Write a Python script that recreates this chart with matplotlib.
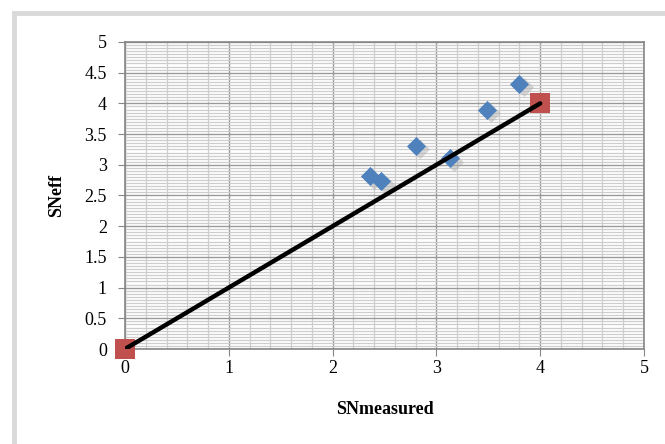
import matplotlib
matplotlib.use("Agg")
import matplotlib.pyplot as plt
from matplotlib.patches import Rectangle
import numpy as np

# Data
sn_measured = [2.36, 2.47, 2.80, 3.13, 3.49, 3.80]
sn_eff = [2.81, 2.73, 3.31, 3.11, 3.90, 4.32]
ref_x = [0, 4]
ref_y = [0, 4]
x_ticks = [0, 1, 2, 3, 4, 5]
y_ticks = [0, 0.5, 1, 1.5, 2, 2.5, 3, 3.5, 4, 4.5, 5]
y_tick_labels = ["0", "0.5", "1", "1.5", "2", "2.5", "3", "3.5", "4", "4.5", "5"]

plt.rcParams['font.family'] = ['Liberation Serif', 'DejaVu Serif']

fig = plt.figure(figsize=(6.65, 4.44), dpi=100)
fig.patch.set_facecolor('white')
# outer chart border
fig.patches.append(Rectangle((14/665, -0.1), 1.2, (444-13)/444 + 0.1, transform=fig.transFigure,
                             fill=False, edgecolor='#d9d9d9', linewidth=3.5, zorder=0))

ax = fig.add_axes([125/665, 1-349/444, (644-125)/665, (349-42)/444])
ax.set_xlim(0, 5)
ax.set_ylim(0, 5)

ax.set_xticks(x_ticks)
ax.set_yticks(y_ticks)
ax.set_yticklabels(y_tick_labels)
ax.set_xticks(np.arange(0, 5.001, 0.2), minor=True)
ax.set_yticks(np.arange(0, 5.001, 0.05), minor=True)
ax.grid(which='minor', color='#cdcdcd', linewidth=0.9, zorder=0)
ax.grid(which='major', color='#999999', linewidth=1.0, zorder=0)
ax.set_axisbelow(True)
ax.tick_params(which='minor', length=0)
ax.tick_params(which='major', direction='out', length=5, color='#868686',
               labelsize=13)
ax.tick_params(axis='y', pad=8)
ax.tick_params(axis='x', pad=3)
for s in ax.spines.values():
    s.set_color('#868686')
    s.set_linewidth(1.2)

# shadows
ax.scatter(np.array(sn_measured) + 0.04, np.array(sn_eff) - 0.06, marker='D', s=95,
           color='#b0b0b0', alpha=0.5, linewidths=0, zorder=2)
ax.scatter(sn_measured, sn_eff, marker='D', s=95, color='#4F81BD', linewidths=0, zorder=3)
ax.scatter(ref_x, ref_y, marker='s', s=190, color='#C0504D', linewidths=0, zorder=3,
           clip_on=False)
ax.plot(ref_x, ref_y, color='black', linewidth=3.2, zorder=4, solid_capstyle='round')

ax.set_xlabel('SNmeasured', fontsize=13, fontweight='bold', labelpad=17)
ax.set_ylabel('SNeff', fontsize=13, fontweight='bold', labelpad=14)

fig.savefig('out.png', dpi=100)
